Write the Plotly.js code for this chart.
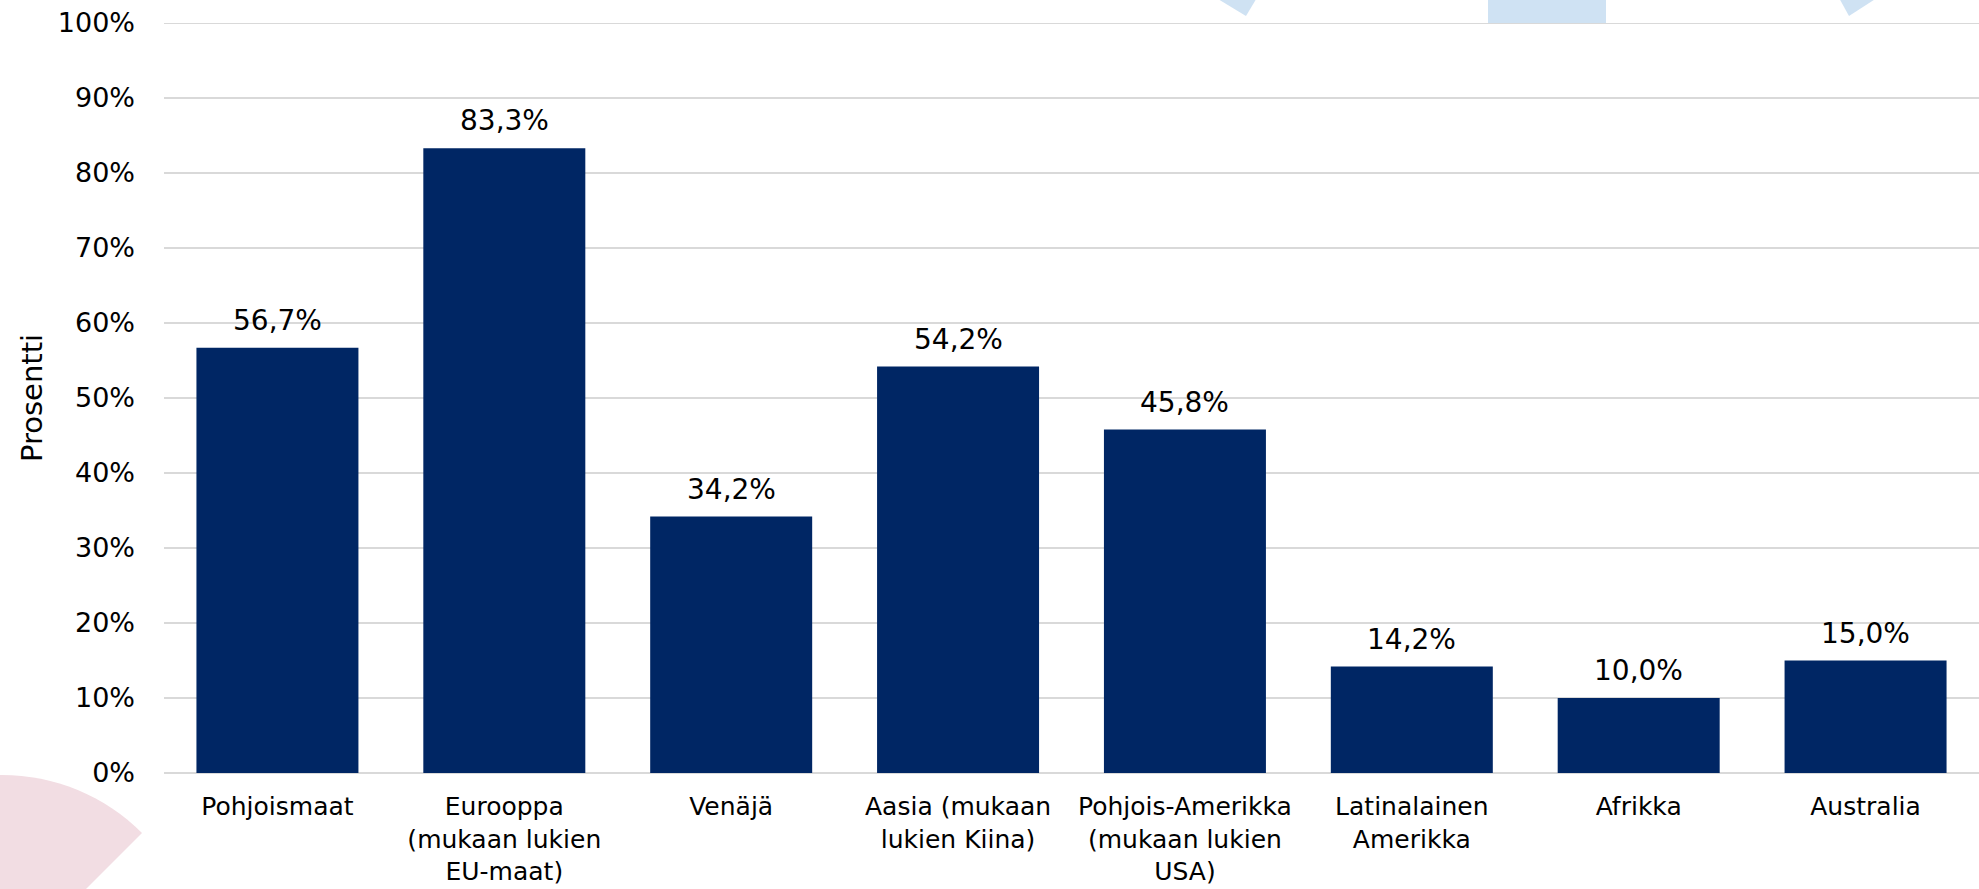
<!DOCTYPE html>
<html>
<head>
<meta charset="utf-8">
<script src="https://cdn.plot.ly/plotly-3.0.1.min.js"></script>
<style>
html,body{margin:0;padding:0;background:#fff;}
#chart{width:1979px;height:889px;}
</style>
</head>
<body>
<div id="chart"></div>
<script>
// ---- data ----
var categories = [
  "Pohjoismaat",
  "Eurooppa<br>(mukaan lukien<br>EU-maat)",
  "Venäjä",
  "Aasia (mukaan<br>lukien Kiina)",
  "Pohjois-Amerikka<br>(mukaan lukien<br>USA)",
  "Latinalainen<br>Amerikka",
  "Afrikka",
  "Australia"
];
var values = [56.7, 83.3, 34.2, 54.2, 45.8, 14.2, 10.0, 15.0];
var yTickValues = [0, 10, 20, 30, 40, 50, 60, 70, 80, 90, 100];
var yTickLabels = ["0%", "10%", "20%", "30%", "40%", "50%", "60%", "70%", "80%", "90%", "100%"];
var yTitle = "Prosentti";

// ---- layout geometry ----
var W = 1979, H = 889;
var M = {l: 164, r: 0, t: 23, b: 116};
var plotW = W - M.l - M.r, plotH = H - M.t - M.b;
function px(x){ return (x - M.l) / plotW; }
function py(y){ return (H - M.b - y) / plotH; }
function poly(pts){
  return 'M' + pts.map(function(p){ return px(p[0]).toFixed(5) + ',' + py(p[1]).toFixed(5); }).join(' L') + ' Z';
}

var lightBlue = '#cfe2f3';
var pink = '#f2dde3';
var gridColor = '#d9d9d9';
var FONT = 'DejaVu Sans';

// decorative background shapes
var shapes = [
  {type:'path', xref:'paper', yref:'paper', layer:'below', line:{width:0}, fillcolor:lightBlue,
   path: poly([[1213,-4],[1258,-4],[1246,16]])},
  {type:'rect', xref:'paper', yref:'paper', layer:'below', line:{width:0}, fillcolor:lightBlue,
   x0:px(1488), x1:px(1606), y0:py(-4), y1:py(23)},
  {type:'path', xref:'paper', yref:'paper', layer:'below', line:{width:0}, fillcolor:lightBlue,
   path: poly([[1838,-4],[1880,-4],[1849,16]])},
  {type:'path', xref:'paper', yref:'paper', layer:'below', line:{width:0}, fillcolor:pink,
   path: 'M' + px(2)+','+py(973) +
         ' L' + px(142)+','+py(833) +
         ' C' + px(104.9)+','+py(795.9)+' '+px(54.5)+','+py(775)+' '+px(2)+','+py(775) +
         ' C' + px(-50.5)+','+py(775)+' '+px(-100.9)+','+py(795.9)+' '+px(-138)+','+py(833) + ' Z'},
  // top gridline at the range edge (100 %)
  {type:'line', xref:'paper', yref:'y', layer:'below', x0:0, x1:1,
   y0:yTickValues[yTickValues.length-1], y1:yTickValues[yTickValues.length-1],
   line:{color:gridColor, width:2}}
];

var trace = {
  type: 'bar',
  x: categories,
  y: values,
  marker: {color: '#002664'},
  hoverinfo: 'none'
};

var annotations = values.map(function(v, i){
  return {
    x: categories[i], y: v, xref: 'x', yref: 'y',
    text: v.toFixed(1).replace('.', ',') + '%',
    showarrow: false, yanchor: 'bottom', yshift: 9,
    font: {family: FONT, size: 28, color: '#000'}
  };
});

var layout = {
  width: W, height: H,
  margin: M,
  paper_bgcolor: '#fff',
  plot_bgcolor: 'rgba(0,0,0,0)',
  showlegend: false,
  bargap: 0.286,
  font: {family: FONT, color: '#000'},
  xaxis: {
    type: 'category',
    tickfont: {family: FONT, size: 25, color: '#000'},
    showgrid: false,
    showline: false,
    ticks: '',
    ticklabelstandoff: 16,
    automargin: false
  },
  yaxis: {
    range: [0, 100],
    tickmode: 'array',
    tickvals: yTickValues,
    ticktext: yTickLabels,
    tickfont: {family: FONT, size: 27, color: '#000'},
    showgrid: true,
    gridcolor: gridColor,
    gridwidth: 2,
    zeroline: true,
    zerolinecolor: gridColor,
    zerolinewidth: 2,
    showline: false,
    ticks: '',
    ticklabelstandoff: 28,
    automargin: false,
    title: {text: yTitle, font: {family: FONT, size: 29, color: '#000'}, standoff: 6}
  },
  shapes: shapes,
  annotations: annotations
};

Plotly.newPlot('chart', [trace], layout, {staticPlot: true, displayModeBar: false});
</script>
</body>
</html>
